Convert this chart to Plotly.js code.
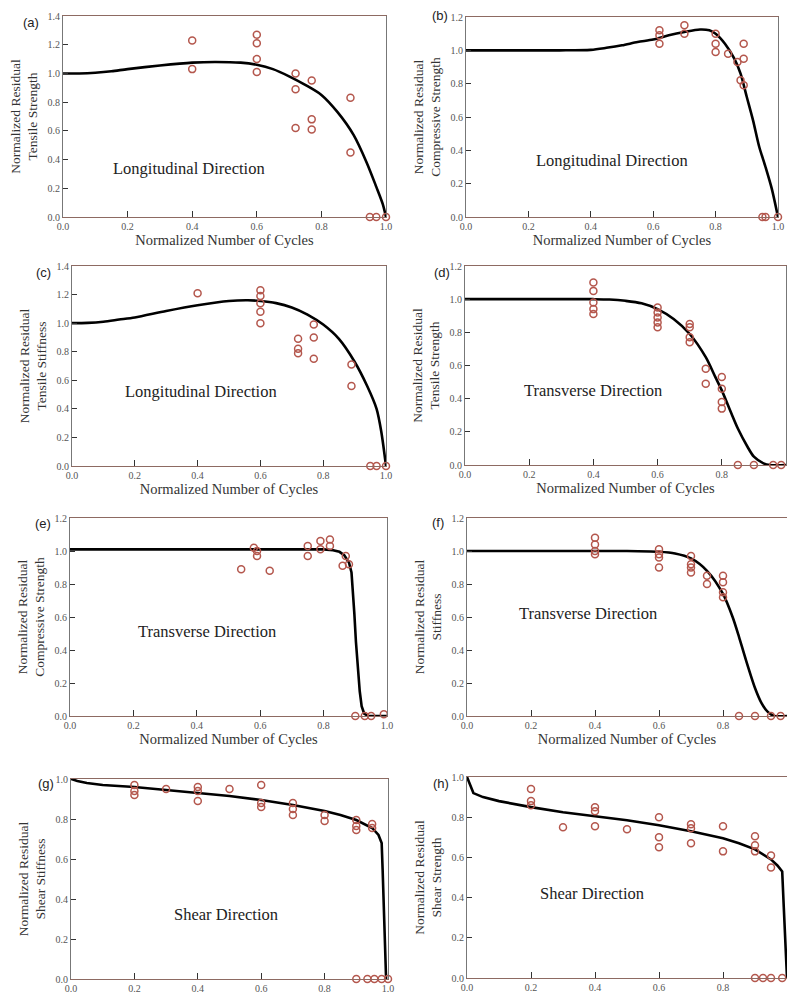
<!DOCTYPE html>
<html>
<head>
<meta charset="utf-8">
<script src="https://cdn.plot.ly/plotly-3.0.1.min.js"></script>
<style>html,body{margin:0;padding:0;background:#fff;}#chart{width:787px;height:992px;}</style>
</head>
<body>
<div id="chart"></div>
<script>
// ---------- data ----------
const panelLetters = ['(a)','(b)','(c)','(d)','(e)','(f)','(g)','(h)'];
const directionLabels = ['Longitudinal Direction','Longitudinal Direction','Longitudinal Direction','Transverse Direction','Transverse Direction','Transverse Direction','Shear Direction','Shear Direction'];
const yTitles = [
  'Normalized Residual<br>Tensile Strength',
  'Normalized Residual<br>Compressive Strength',
  'Normalized Residual<br>Tensile Stiffness',
  'Normalized Residual<br>Tensile Strength',
  'Normalized Residual<br>Compressive Strength',
  'Normalized Residual<br>Stiffness',
  'Normalized Residual<br>Shear Stiffness',
  'Normalized Residual<br>Shear Strength'
];
const xTitle = 'Normalized Number of Cycles';
const yMax = [1.4, 1.2, 1.4, 1.2, 1.2, 1.2, 1.0, 1.0];

// (a) tensile strength, longitudinal
const aPtsX = [0.40,0.40,0.60,0.60,0.60,0.60,0.72,0.72,0.72,0.77,0.77,0.77,0.89,0.89,0.95,0.97,1.00];
const aPtsY = [1.23,1.03,1.27,1.21,1.10,1.01,1.00,0.89,0.62,0.95,0.68,0.61,0.83,0.45,0,0,0];
const aCurveX = [0,0.05,0.1,0.15,0.2,0.3,0.4,0.47,0.55,0.6,0.65,0.7,0.75,0.8,0.85,0.9,0.94,0.97,0.99,1.0];
const aCurveY = [1.0,1.0,1.005,1.015,1.03,1.055,1.075,1.08,1.075,1.06,1.03,0.98,0.92,0.85,0.73,0.57,0.38,0.21,0.09,0.0];

// (b) compressive strength, longitudinal
const bPtsX = [0.62,0.62,0.62,0.70,0.70,0.80,0.80,0.80,0.84,0.87,0.89,0.89,0.88,0.89,0.95,0.96,1.00];
const bPtsY = [1.12,1.09,1.04,1.15,1.10,1.10,1.04,0.99,0.98,0.93,1.04,0.95,0.82,0.79,0,0,0];
const bCurveX = [0,0.1,0.2,0.3,0.4,0.45,0.5,0.55,0.6,0.65,0.7,0.75,0.78,0.8,0.83,0.86,0.88,0.9,0.92,0.94,0.96,0.98,1.0];
const bCurveY = [1.0,1.0,1.0,1.0,1.003,1.015,1.03,1.05,1.065,1.09,1.11,1.125,1.12,1.10,1.04,0.95,0.86,0.72,0.58,0.42,0.30,0.17,0.0];

// (c) tensile stiffness, longitudinal
const cPtsX = [0.40,0.60,0.60,0.60,0.60,0.60,0.72,0.72,0.72,0.77,0.77,0.77,0.89,0.89,0.95,0.97,1.00];
const cPtsY = [1.21,1.23,1.19,1.14,1.08,1.00,0.89,0.82,0.79,0.99,0.90,0.75,0.71,0.56,0,0,0];
const cCurveX = [0,0.05,0.1,0.15,0.2,0.3,0.4,0.5,0.56,0.6,0.65,0.7,0.75,0.8,0.85,0.9,0.94,0.97,0.985,1.0];
const cCurveY = [1.0,1.002,1.01,1.025,1.04,1.085,1.125,1.155,1.16,1.155,1.14,1.11,1.06,0.99,0.89,0.73,0.56,0.40,0.24,0.0];

// (d) tensile strength, transverse
const dPtsX = [0.4,0.4,0.4,0.4,0.4,0.6,0.6,0.6,0.6,0.6,0.7,0.7,0.7,0.7,0.75,0.75,0.8,0.8,0.8,0.8,0.85,0.90,0.96,0.985];
const dPtsY = [1.10,1.05,0.98,0.94,0.91,0.95,0.92,0.89,0.86,0.83,0.85,0.83,0.77,0.74,0.58,0.49,0.53,0.46,0.38,0.34,0,0,0,0];
const dCurveX = [0,0.1,0.2,0.3,0.4,0.45,0.5,0.55,0.6,0.65,0.7,0.75,0.78,0.8,0.83,0.85,0.88,0.9,0.93,0.95,1.0];
const dCurveY = [1.0,1.0,1.0,1.0,1.0,0.998,0.99,0.975,0.94,0.88,0.79,0.65,0.53,0.45,0.31,0.22,0.11,0.05,0.01,0.0,0.0];

// (e) compressive strength, transverse
const ePtsX = [0.54,0.58,0.59,0.59,0.63,0.75,0.75,0.79,0.79,0.82,0.82,0.87,0.88,0.86,0.90,0.93,0.95,0.99];
const ePtsY = [0.89,1.02,1.00,0.97,0.88,1.03,0.97,1.06,1.01,1.07,1.03,0.97,0.92,0.91,0,0,0,0.01];
const eCurveX = [0,0.2,0.4,0.6,0.8,0.83,0.85,0.865,0.88,0.888,0.893,0.897,0.902,0.908,0.914,0.92,0.928,0.94,1.0];
const eCurveY = [1.01,1.01,1.01,1.01,1.01,1.005,0.995,0.975,0.93,0.87,0.76,0.62,0.45,0.29,0.15,0.06,0.015,0.0,0.0];

// (f) stiffness, transverse
const fPtsX = [0.4,0.4,0.4,0.4,0.6,0.6,0.6,0.6,0.7,0.7,0.7,0.7,0.75,0.75,0.8,0.8,0.8,0.8,0.85,0.90,0.95,0.98];
const fPtsY = [1.08,1.04,1.00,0.98,1.01,0.98,0.96,0.90,0.97,0.92,0.90,0.87,0.85,0.80,0.85,0.81,0.75,0.72,0,0,0,0];
const fCurveX = [0,0.2,0.4,0.5,0.6,0.65,0.7,0.75,0.8,0.83,0.85,0.87,0.9,0.92,0.94,0.96,1.0];
const fCurveY = [1.0,1.0,1.0,1.0,0.995,0.985,0.955,0.88,0.74,0.60,0.48,0.35,0.17,0.08,0.025,0.0,0.0];

// (g) shear stiffness
const gPtsX = [0.2,0.2,0.2,0.3,0.4,0.4,0.4,0.5,0.6,0.6,0.6,0.7,0.7,0.7,0.8,0.8,0.9,0.9,0.9,0.95,0.95,0.90,0.935,0.957,0.98,1.0];
const gPtsY = [0.97,0.94,0.92,0.95,0.96,0.94,0.89,0.95,0.97,0.88,0.86,0.88,0.85,0.82,0.82,0.79,0.795,0.765,0.745,0.775,0.755,0,0,0,0,0];
const gCurveX = [0,0.02,0.05,0.1,0.2,0.3,0.4,0.5,0.6,0.7,0.8,0.85,0.9,0.93,0.95,0.97,0.98,0.983,0.987,0.99,0.994];
const gCurveY = [1.0,0.99,0.98,0.97,0.96,0.945,0.93,0.915,0.895,0.87,0.84,0.82,0.795,0.77,0.755,0.72,0.68,0.55,0.35,0.15,0.0];

// (h) shear strength
const hPtsX = [0.2,0.2,0.2,0.3,0.4,0.4,0.4,0.5,0.6,0.6,0.6,0.7,0.7,0.7,0.8,0.8,0.9,0.9,0.9,0.95,0.95,0.90,0.925,0.95,0.985];
const hPtsY = [0.94,0.88,0.86,0.75,0.85,0.83,0.755,0.74,0.80,0.70,0.65,0.765,0.745,0.67,0.755,0.63,0.705,0.66,0.63,0.61,0.55,0,0,0,0];
const hCurveX = [0,0.01,0.02,0.05,0.1,0.2,0.3,0.4,0.5,0.6,0.7,0.8,0.85,0.9,0.93,0.95,0.97,0.98,0.985,0.99,0.995,1.0];
const hCurveY = [1.0,0.96,0.92,0.90,0.88,0.85,0.825,0.805,0.785,0.76,0.73,0.695,0.67,0.64,0.61,0.59,0.56,0.54,0.53,0.35,0.15,0.0];

// label positions (data coords of each panel)
const labelX = [0.39,0.467,0.41,0.40,0.433,0.379,0.49,0.39];
const labelY = [0.34,0.34,0.52,0.45,0.515,0.62,0.325,0.42];

// ---------- layout geometry (pixels) ----------
const W = 787, H = 992;
const boxes = [ // [left, right, top, bottom] in px
  [63, 386, 16, 217],
  [466, 778, 17, 217],
  [72, 386, 266, 466],
  [465, 786, 266, 465],
  [70, 387, 518, 716],
  [467, 787, 518, 716],
  [71, 388, 779, 979],
  [467, 787, 777, 978]
];
const letterPos = [[31,22],[440,16],[43,273],[442,273],[43,523],[438,522],[46,783],[441,783]];
const showXTitle = [true,true,true,true,true,true,false,false];

const ptsX = [aPtsX,bPtsX,cPtsX,dPtsX,ePtsX,fPtsX,gPtsX,hPtsX];
const ptsY = [aPtsY,bPtsY,cPtsY,dPtsY,ePtsY,fPtsY,gPtsY,hPtsY];
const curveX = [aCurveX,bCurveX,cCurveX,dCurveX,eCurveX,fCurveX,gCurveX,hCurveX];
const curveY = [aCurveY,bCurveY,cCurveY,dCurveY,eCurveY,fCurveY,gCurveY,hCurveY];
const curveShape = ['spline','spline','spline','spline','linear','spline','linear','linear'];

const SERIF = '"Liberation Serif", "Times New Roman", serif';
const traces = [];
const layout = {
  width: W, height: H,
  margin: {l:0, r:0, t:0, b:0},
  paper_bgcolor: '#fff', plot_bgcolor: '#fff',
  showlegend: false,
  annotations: []
};

for (let i = 0; i < 8; i++) {
  const n = i === 0 ? '' : String(i + 1);
  const xa = 'x' + n, ya = 'y' + n;
  const b = boxes[i];
  traces.push({
    type: 'scatter', mode: 'lines', x: curveX[i], y: curveY[i],
    xaxis: xa, yaxis: ya,
    line: {color: '#000', width: 2.6, shape: curveShape[i], smoothing: 0.8},
    cliponaxis: false, hoverinfo: 'skip'
  });
  traces.push({
    type: 'scatter', mode: 'markers', x: ptsX[i], y: ptsY[i],
    xaxis: xa, yaxis: ya,
    marker: {symbol: 'circle-open', size: 7, color: '#b4574d', line: {width: 1.5, color: '#b4574d'}},
    cliponaxis: false
  });
  layout['xaxis' + n] = {
    domain: [b[0] / W, b[1] / W],
    range: [0, 1.0], anchor: ya,
    dtick: 0.2, tick0: 0, tickformat: '.1f',
    ticks: 'inside', ticklen: 6, tickwidth: 1, tickcolor: '#333',
    showline: true, linecolor: '#8d6a62', linewidth: 1, mirror: true,
    showgrid: false, zeroline: false,
    tickfont: {family: SERIF, size: 10, color: '#555'},
    title: showXTitle[i] ? {text: xTitle, font: {family: SERIF, size: 14.5, color: '#333'}, standoff: 3} : {text: ''}
  };
  layout['yaxis' + n] = {
    domain: [1 - b[3] / H, 1 - b[2] / H],
    range: [0, yMax[i]], anchor: xa,
    dtick: 0.2, tick0: 0, tickformat: '.1f',
    ticks: 'inside', ticklen: 5, tickwidth: 1, tickcolor: '#333',
    showline: true, linecolor: '#777', linewidth: 1, mirror: true,
    showgrid: false, zeroline: false,
    tickfont: {family: SERIF, size: 10, color: '#555'},
    title: {text: yTitles[i], font: {family: SERIF, size: 13.5, color: '#333'}, standoff: 6}
  };
  layout.annotations.push({
    xref: xa, yref: ya, x: labelX[i], y: labelY[i],
    xanchor: 'center', yanchor: 'middle',
    text: directionLabels[i], showarrow: false,
    font: {family: SERIF, size: 16.5, color: '#222'}
  });
  layout.annotations.push({
    xref: 'paper', yref: 'paper',
    x: letterPos[i][0] / W, y: 1 - letterPos[i][1] / H,
    xanchor: 'center', yanchor: 'middle',
    text: panelLetters[i], showarrow: false,
    font: {family: 'Liberation Sans, Arial, sans-serif', size: 13, color: '#222'}
  });
}

Plotly.newPlot('chart', traces, layout, {displayModeBar: false, staticPlot: true});
</script>
</body>
</html>
